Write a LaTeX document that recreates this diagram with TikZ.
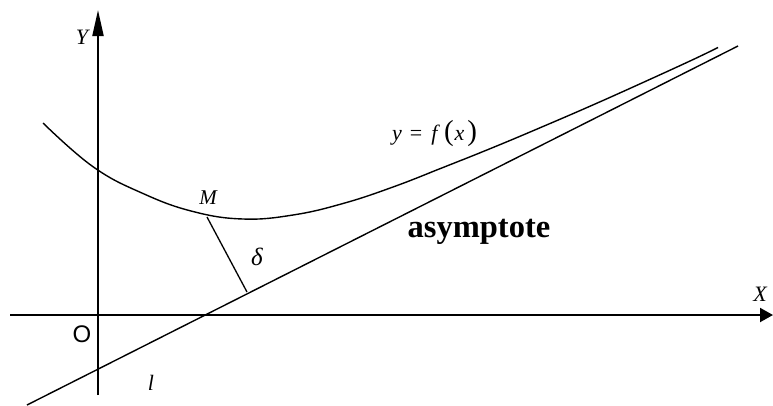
\documentclass[tikz,border=0pt]{standalone}
\usepackage{fontspec}
\setmainfont{Liberation Serif}
\newfontfamily\sansO{Liberation Sans}
\usetikzlibrary{arrows.meta}
\begin{document}
\begin{tikzpicture}[x=1pt,y=-1pt,
  axis/.style={line width=2pt},
  thin line/.style={line width=1.4pt},
  lab/.style={inner sep=0pt,font=\itshape\fontsize{22}{22}\selectfont}]
\useasboundingbox (0,0) rectangle (773,405);
% axes
\coordinate (xs) at (10,315);
\coordinate (xe) at (773,315);
\coordinate (ys) at (98,395);
\coordinate (ye) at (98,10);
\draw[axis,-{Triangle[length=13pt,width=14pt]}] (xs) -- (xe);
\draw[axis,-{Triangle[length=26pt,width=11pt]}] (ys) -- (ye);
% asymptote
\coordinate (as) at (27,405);
\coordinate (ae) at (738,46);
\draw[thin line] (as) -- (ae);
% curve
\draw[thin line] plot[smooth,tension=0.7] coordinates {(43,123) (93,166.7) (143,193.5) (193,211.5) (243,219) (293,215) (343,203.5) (393,187) (443,167.5) (493,147.5) (543,126.5) (593,104.9) (643,82.5) (693,59.6) (718,47.5)};
% distance segment
\coordinate (Mp) at (207,217);
\coordinate (Np) at (247,292);
\draw[line width=1.3pt] (Mp) -- (Np);
% labels
\node[lab] (Y) at (82,37) {Y};
\node[lab] (X) at (760,294) {X};
\node[inner sep=0pt,font=\sansO\fontsize{24}{24}\selectfont] (O) at (82,334) {O};
\node[lab] (l) at (151,383) {l};
\node[lab,font=\itshape\fontsize{21}{21}\selectfont] (M) at (208,198) {M};
\node[inner sep=0pt,font=\itshape\fontsize{25}{25}\selectfont] (d) at (257,257) {δ};
\node[inner sep=0pt,font=\bfseries\fontsize{32.5}{32.5}\selectfont] (asy) at (479,232) {asymptote};
\node[inner sep=0pt,font=\fontsize{22}{22}\selectfont,anchor=base west] (f) at (392,140) {\textit{y}\hspace{8pt}=\hspace{9pt}\textit{f}\hspace{4pt}{\fontsize{29}{29}\selectfont(}\hspace{1pt}\textit{x}\hspace{3pt}{\fontsize{29}{29}\selectfont)}};
\end{tikzpicture}
\end{document}
